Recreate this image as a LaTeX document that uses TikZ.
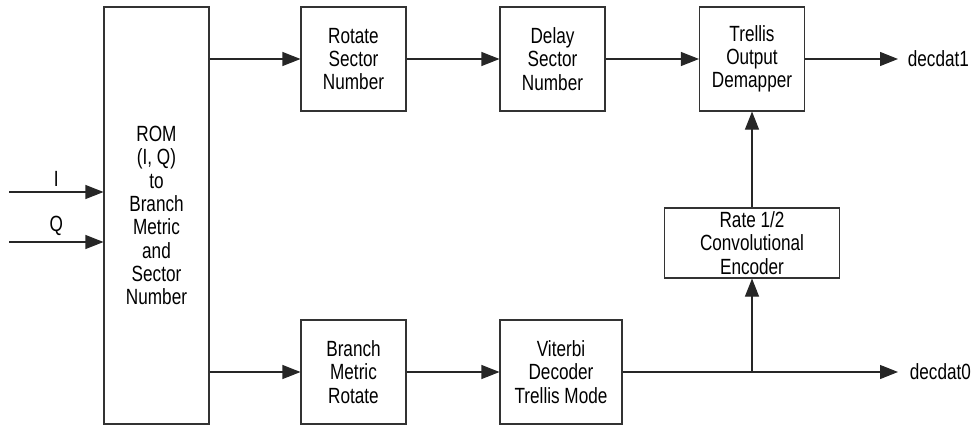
\documentclass[tikz,border=0pt]{standalone}
\usepackage{fontspec}
\setmainfont{Liberation Sans}[FakeStretch=0.78]
\usetikzlibrary{arrows.meta,positioning}

\tikzset{
  blk/.style={draw=black!80,line width=1.1pt,align=center,inner sep=0pt,
    minimum width=105pt,minimum height=104pt,font=\fontsize{22}{23.3}\selectfont},
  sig/.style={draw=black!85,line width=1.1pt,-{Triangle[length=18pt,width=14pt]}},
  lbl/.style={font=\fontsize{22}{23.3}\selectfont}
}

\begin{document}
\begin{tikzpicture}[x=1pt,y=-1pt]
  \useasboundingbox (0,0) rectangle (976,426);
  \node[blk,minimum height=417pt] (rom) at (156.5,215.5)
    {ROM\\(I, Q)\\to\\Branch\\Metric\\and\\Sector\\Number};
  \node[blk] (rsn) at (353.5,59) {Rotate\\Sector\\Number};
  \node[blk] (bmr) at (353.5,372) {Branch\\Metric\\Rotate};
  \node[blk] (dsn) at (552.5,59) {Delay\\Sector\\Number};
  \node[blk] (tod) at (752,59) {Trellis\\Output\\Demapper};
  \node[blk,minimum width=175pt,minimum height=70pt] (enc) at (752,243)
    {Rate 1/2\\Convolutional\\Encoder};
  \node[blk,minimum width=122pt] (vit) at (561,372)
    {Viterbi\\Decoder\\Trellis Mode};

  \coordinate (inI) at (9,192);
  \coordinate (inQ) at (9,242);
  \coordinate (out1) at (898,59);
  \coordinate (out0) at (898,372);
  \coordinate (tap) at (enc |- vit.east);

  \draw[sig] (inI) -- node[lbl,above=2pt] {I} (inI -| rom.west);
  \draw[sig] (inQ) -- node[lbl,above=2pt] {Q} (inQ -| rom.west);
  \draw[sig] (rom.east |- rsn.west) -- (rsn.west);
  \draw[sig] (rom.east |- bmr.west) -- (bmr.west);
  \draw[sig] (rsn) -- (dsn);
  \draw[sig] (dsn) -- (tod);
  \draw[sig] (bmr) -- (vit);
  \draw[sig] (tod.east) -- (out1) node[lbl,right=6pt] {decdat1};
  \draw[sig] (vit.east) -- (out0) node[lbl,right=8pt] {decdat0};
  \draw[sig] (tap) -- (enc.south);
  \draw[sig] (enc.north) -- (tod.south);
\end{tikzpicture}
\end{document}
